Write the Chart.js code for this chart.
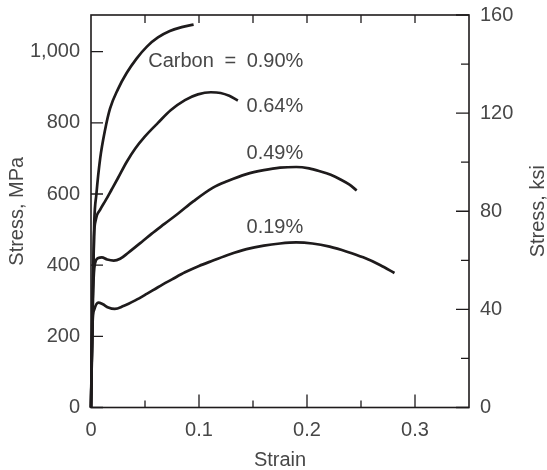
<!DOCTYPE html>
<html lang="en">
<head>
<meta charset="UTF-8">
<title>Stress-strain curves, carbon steels</title>
<script src="https://cdn.jsdelivr.net/npm/chart.js"></script>
<style>
    html, body { margin: 0; padding: 0; background: #fff; }
    #wrap { width: 547px; height: 470px; }
</style>
</head>
<body>
<div id="wrap"><canvas id="chart"></canvas></div>
<script>
const MPA_PER_KSI = 6.894757;

// strain and stress (MPa) for each carbon content
const strain090 = [0, 0.0015, 0.003, 0.005, 0.0085, 0.013, 0.0176, 0.025, 0.033, 0.042, 0.052, 0.062, 0.073, 0.084, 0.095];
const stress090 = [0, 300, 520, 600, 700, 780, 840, 895, 940, 980, 1015, 1040, 1058, 1069, 1076];

const strain064 = [0, 0.0015, 0.0028, 0.0045, 0.0085, 0.0135, 0.019, 0.025, 0.033, 0.041, 0.05, 0.062, 0.074, 0.087, 0.099, 0.111, 0.12, 0.128, 0.136];
const stress064 = [0, 300, 480, 528, 556, 582, 612, 645, 690, 728, 762, 800, 836, 864, 880, 886, 884, 876, 863];

const strain049 = [0, 0.002, 0.0037, 0.0068, 0.010, 0.015, 0.021, 0.027, 0.0345, 0.048, 0.056, 0.068, 0.081, 0.095, 0.113, 0.126, 0.144, 0.160, 0.175, 0.19, 0.202, 0.212, 0.222, 0.231, 0.239, 0.246];
const stress049 = [0, 330, 405, 420, 422, 416, 413, 418, 435, 468, 488, 516, 546, 580, 618, 636, 656, 667, 674, 676, 672, 664, 654, 641, 627, 610];

const strain019 = [0, 0.0015, 0.003, 0.0068, 0.011, 0.016, 0.022, 0.03, 0.041, 0.052, 0.062, 0.075, 0.087, 0.100, 0.113, 0.128, 0.144, 0.16, 0.175, 0.19, 0.205, 0.221, 0.237, 0.252, 0.268, 0.281];
const stress019 = [0, 240, 275, 295, 290, 281, 277, 285, 301, 320, 338, 360, 380, 398, 413, 430, 445, 455, 461, 464, 461, 452, 438, 422, 400, 378];

const curveLabels = ['Carbon = 0.90%', '0.64%', '0.49%', '0.19%'];
const labelStrain = [0.053, 0.144, 0.144, 0.144];
const labelStress = [972, 846, 715, 505];

// axis ticks
const strainTicks = [0, 0.1, 0.2, 0.3];
const strainMinor = [0.05, 0.15, 0.25];
const strainTop = [0.05, 0.1, 0.15, 0.2, 0.25, 0.3];
const mpaTicks = [0, 200, 400, 600, 800, 1000];
const ksiTicks = [0, 40, 80, 120, 160];
const ksiMinor = [20, 60, 100, 140];
const ksiMax = 160;

const FONT = "'Liberation Sans', Arial, sans-serif";
const TEXT = '#474747';
const INK = '#1e1b1c';

const curves = [[strain090, stress090], [strain064, stress064], [strain049, stress049], [strain019, stress019]];

const decorations = {
    id: 'decorations',
    afterDraw(chart) {
        const {ctx, chartArea: a, scales} = chart;
        const sx = scales.x, sy = scales.y, sk = scales.ksi;
        ctx.save();
        ctx.strokeStyle = INK;
        ctx.lineWidth = 1.6;
        ctx.strokeRect(a.left, a.top, a.right - a.left, a.bottom - a.top);

        ctx.lineWidth = 1.3;
        ctx.beginPath();
        const tick = (x1, y1, x2, y2) => { ctx.moveTo(x1, y1); ctx.lineTo(x2, y2); };
        strainTicks.forEach(v => { const x = sx.getPixelForValue(v); tick(x, a.bottom, x, a.bottom - 13); });
        strainMinor.forEach(v => { const x = sx.getPixelForValue(v); tick(x, a.bottom, x, a.bottom - 7); });
        strainTop.forEach(v => { const x = sx.getPixelForValue(v); tick(x, a.top, x, a.top + 8); });
        mpaTicks.forEach(v => { const y = sy.getPixelForValue(v); tick(a.left, y, a.left + 12, y); });
        ksiTicks.forEach(v => { const y = sk.getPixelForValue(v); tick(a.right, y, a.right - 13, y); });
        ksiMinor.forEach(v => { const y = sk.getPixelForValue(v); tick(a.right, y, a.right - 8, y); });
        ctx.stroke();

        ctx.fillStyle = TEXT;
        ctx.font = '20px ' + FONT;
        ctx.textAlign = 'left';
        ctx.textBaseline = 'middle';
        curveLabels.forEach((t, i) => {
            // the first label has wide spaces round the "="
            ctx.wordSpacing = i === 0 ? '5px' : '0px';
            ctx.fillText(t, sx.getPixelForValue(labelStrain[i]), sy.getPixelForValue(labelStress[i]));
        });
        ctx.wordSpacing = '0px';

        // both y titles read bottom to top
        const midY = (a.top + a.bottom) / 2;
        ctx.textAlign = 'center';
        [['Stress, MPa', 17], ['Stress, ksi', 538]].forEach(([t, x]) => {
            ctx.save();
            ctx.translate(x, midY);
            ctx.rotate(-Math.PI / 2);
            ctx.fillText(t, 0, 0);
            ctx.restore();
        });
        ctx.restore();
    }
};

const tickFont = { family: FONT, size: 20 };
const noPad = s => { s.paddingTop = 0; s.paddingBottom = 0; s.paddingLeft = 0; s.paddingRight = 0; };

new Chart(document.getElementById('chart'), {
    type: 'scatter',
    data: {
        datasets: curves.map(([xs, ys]) => ({
            data: xs.map((x, i) => ({ x: x, y: ys[i] })),
            showLine: true,
            borderColor: INK,
            borderWidth: 2.7,
            pointRadius: 0,
            cubicInterpolationMode: 'monotone',
            clip: false
        }))
    },
    options: {
        animation: false,
        responsive: true,
        maintainAspectRatio: false,
        devicePixelRatio: 1,
        layout: { padding: { top: 15, left: 0, right: 0, bottom: 0 } },
        plugins: { legend: { display: false }, tooltip: { enabled: false } },
        scales: {
            x: {
                type: 'linear',
                position: 'bottom',
                min: 0,
                max: 0.35,
                afterBuildTicks: s => { s.ticks = strainTicks.map(v => ({ value: v })); },
                afterFit: s => { s.height = 62.5; noPad(s); },
                ticks: {
                    font: tickFont,
                    color: TEXT,
                    padding: 10.5,
                    callback: v => v === 0 ? '0' : v.toFixed(1)
                },
                grid: { display: false, drawTicks: false },
                border: { display: false },
                title: {
                    display: true,
                    text: 'Strain',
                    color: TEXT,
                    font: { family: FONT, size: 20, lineHeight: 1 },
                    padding: { top: 0, bottom: 0 }
                }
            },
            y: {
                type: 'linear',
                position: 'left',
                min: 0,
                max: ksiMax * MPA_PER_KSI,
                afterBuildTicks: s => { s.ticks = mpaTicks.map(v => ({ value: v })); },
                afterFit: s => { s.width = 91; noPad(s); },
                ticks: {
                    font: tickFont,
                    color: TEXT,
                    padding: 11,
                    callback: v => v.toLocaleString('en-US')
                },
                grid: { display: false, drawTicks: false },
                border: { display: false }
            },
            ksi: {
                type: 'linear',
                position: 'right',
                min: 0,
                max: ksiMax,
                afterBuildTicks: s => { s.ticks = ksiTicks.map(v => ({ value: v })); },
                afterFit: s => { s.width = 78; noPad(s); },
                ticks: {
                    font: tickFont,
                    color: TEXT,
                    padding: 11,
                    callback: v => String(v)
                },
                grid: { display: false, drawTicks: false },
                border: { display: false }
            }
        }
    },
    plugins: [decorations]
});
</script>
</body>
</html>
